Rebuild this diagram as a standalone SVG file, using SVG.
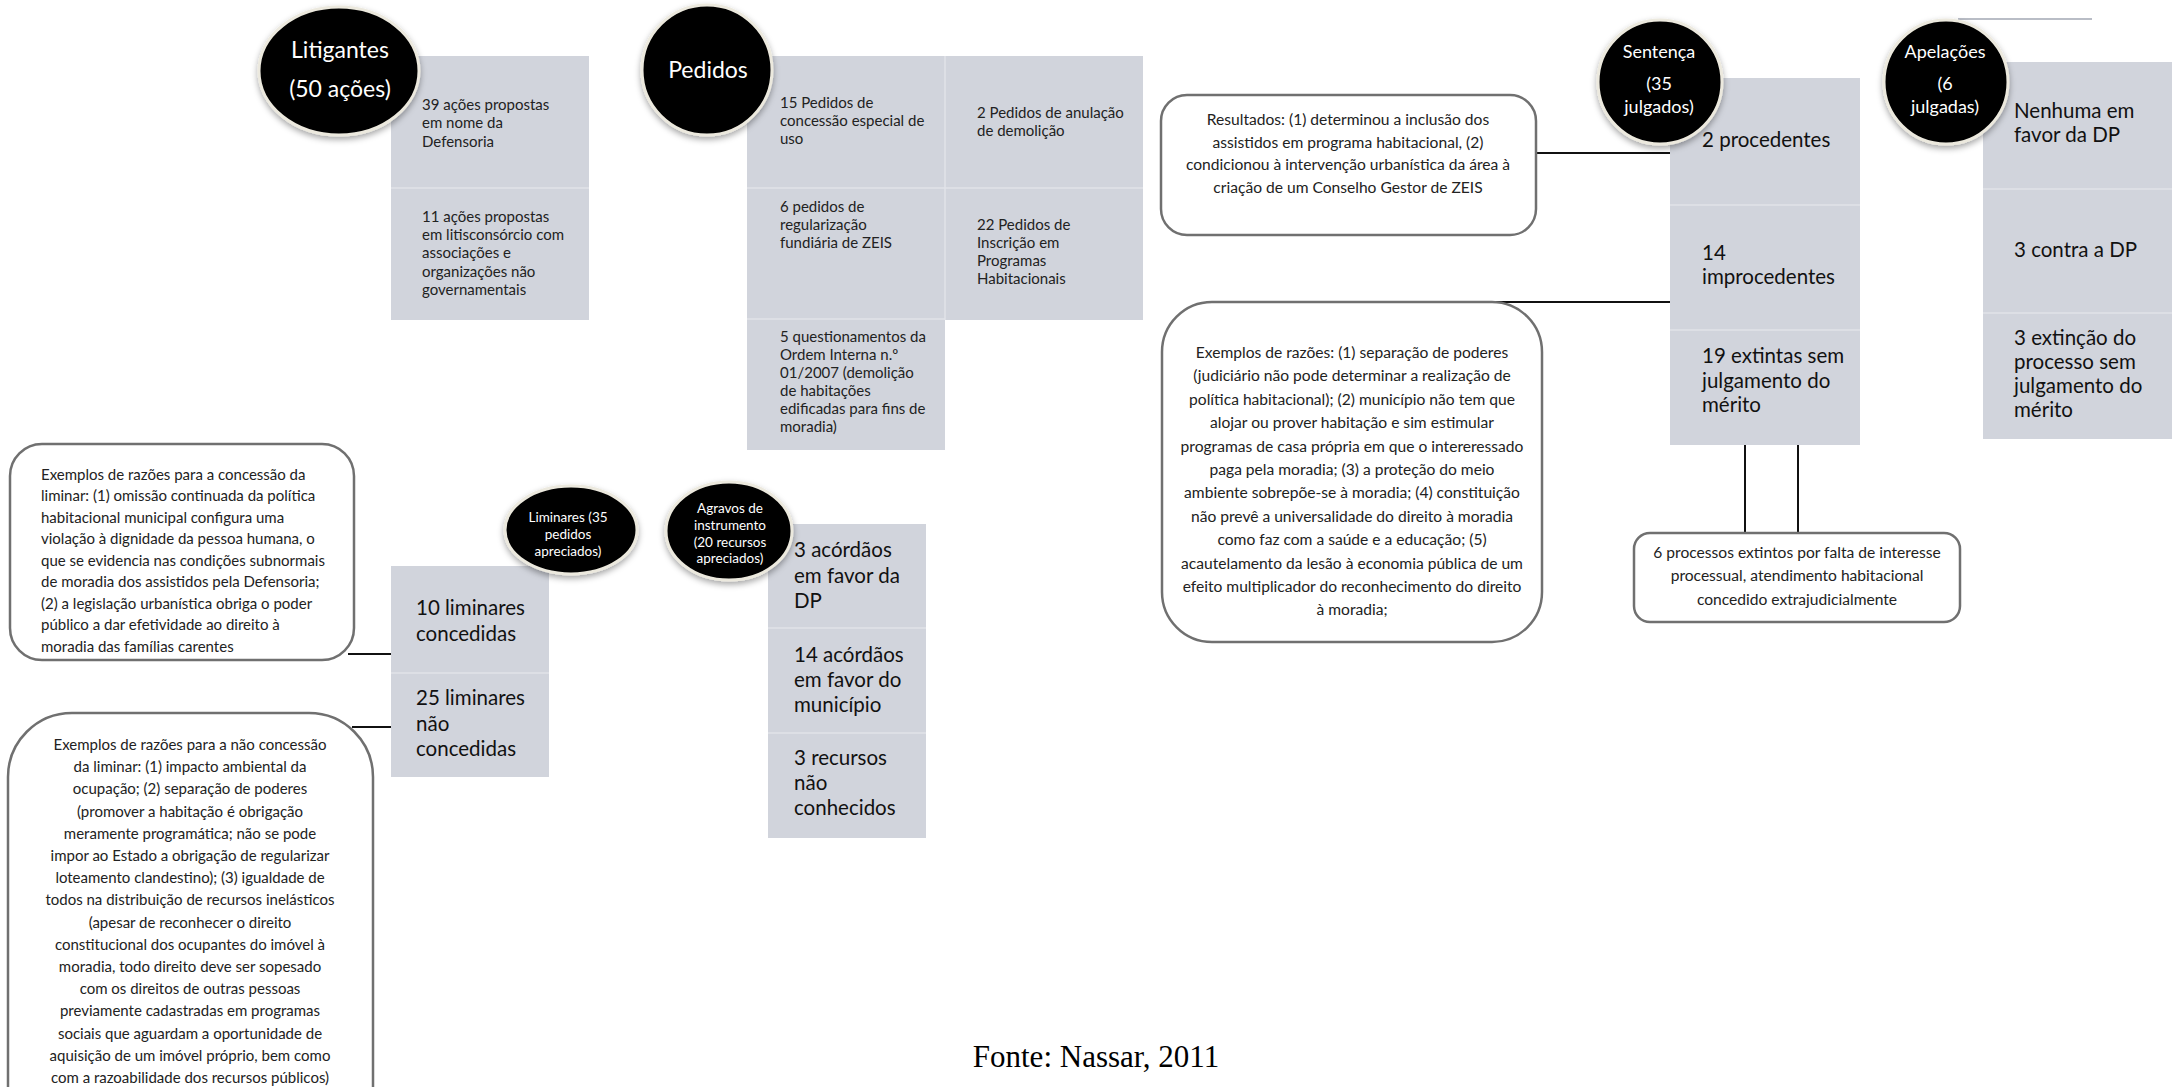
<svg xmlns="http://www.w3.org/2000/svg" width="2172" height="1087" viewBox="0 0 2172 1087">
<defs>
<filter id="sh" x="-20%" y="-20%" width="140%" height="150%">
<feDropShadow dx="0" dy="3" stdDeviation="3" flood-color="#000" flood-opacity="0.35"/>
</filter>
<style>
.bx{fill:#d1d4dc}
.dv{stroke:#e1e3e8;stroke-width:1.5}
.cir{fill:#000;stroke:#ece9de;stroke-width:3;filter:url(#sh)}
.ct{fill:#fff;font-family:Lato,"Liberation Sans",sans-serif;text-anchor:middle}
.t{fill:#222;font-family:Lato,"Liberation Sans",sans-serif;font-size:15px}
.r{font-size:15.6px}
.tb{fill:#111;font-family:Lato,"Liberation Sans",sans-serif;font-size:20.5px}
.rb{fill:#fff;stroke:#707070;stroke-width:2.5}
.tc{text-anchor:middle}
.ln{stroke:#111;stroke-width:2;fill:none}
.lg{stroke:#b9bdc6;stroke-width:2;fill:none}
</style>
</defs>
<rect width="2172" height="1087" fill="#fff"/>

<g id="connectors">
<line class="ln" x1="1535" y1="153" x2="1670" y2="153"/>
<line class="lg" x1="1670" y1="153" x2="1693" y2="153"/>
<line class="ln" x1="1490" y1="302" x2="1670" y2="302"/>
<line class="lg" x1="1670" y1="302" x2="1693" y2="302"/>
<line class="ln" x1="1745" y1="445" x2="1745" y2="533"/>
<line class="lg" x1="1745" y1="422" x2="1745" y2="445"/>
<line class="ln" x1="1798" y1="445" x2="1798" y2="533"/>
<line class="lg" x1="1798" y1="422" x2="1798" y2="445"/>
<line class="ln" x1="348" y1="654" x2="391" y2="654"/>
<line class="lg" x1="391" y1="654" x2="400" y2="654"/>
<line class="ln" x1="352" y1="727" x2="391" y2="727"/>
<line class="lg" x1="391" y1="727" x2="400" y2="727"/>
<line class="lg" x1="1958" y1="19" x2="2092" y2="19"/>
</g>

<g id="litigantes">
<rect class="bx" x="391" y="56" width="198" height="264"/>
<line class="dv" x1="391" y1="188" x2="589" y2="188"/>
<ellipse class="cir" cx="339" cy="71" rx="80" ry="64"/>
<text class="ct" x="340" y="58" font-size="23">Litigantes</text>
<text class="ct" x="340" y="97" font-size="23">(50 ações)</text>
<text class="t" x="422" y="110">39 ações propostas</text>
<text class="t" x="422" y="128">em nome da</text>
<text class="t" x="422" y="147">Defensoria</text>
<text class="t" x="422" y="222">11 ações propostas</text>
<text class="t" x="422" y="240">em litisconsórcio com</text>
<text class="t" x="422" y="258">associações e</text>
<text class="t" x="422" y="277">organizações não</text>
<text class="t" x="422" y="295">governamentais</text>
</g>

<g id="pedidos">
<rect class="bx" x="747" y="56" width="396" height="264"/>
<rect class="bx" x="747" y="320" width="198" height="130"/>
<line class="dv" x1="945" y1="56" x2="945" y2="320"/>
<line class="dv" x1="747" y1="188" x2="1143" y2="188"/>
<line class="dv" x1="747" y1="319" x2="945" y2="319"/>
<ellipse class="cir" cx="707" cy="70" rx="65" ry="65"/>
<text class="ct" x="708" y="78" font-size="23">Pedidos</text>
<text class="t" x="780" y="108">15 Pedidos de</text>
<text class="t" x="780" y="126">concessão especial de</text>
<text class="t" x="780" y="144">uso</text>
<text class="t" x="977" y="118">2 Pedidos de anulação</text>
<text class="t" x="977" y="136">de demolição</text>
<text class="t" x="780" y="212">6 pedidos de</text>
<text class="t" x="780" y="230">regularização</text>
<text class="t" x="780" y="248">fundiária de ZEIS</text>
<text class="t" x="977" y="230">22 Pedidos de</text>
<text class="t" x="977" y="248">Inscrição em</text>
<text class="t" x="977" y="266">Programas</text>
<text class="t" x="977" y="284">Habitacionais</text>
<text class="t" x="780" y="342">5 questionamentos da</text>
<text class="t" x="780" y="360">Ordem Interna n.º</text>
<text class="t" x="780" y="378">01/2007 (demolição</text>
<text class="t" x="780" y="396">de habitações</text>
<text class="t" x="780" y="414">edificadas para fins de</text>
<text class="t" x="780" y="432">moradia)</text>
</g>

<g id="resultados">
<rect class="rb" x="1161" y="95" width="375" height="140" rx="26"/>
<text class="t r tc" x="1348" y="125">Resultados: (1) determinou a inclusão dos</text>
<text class="t r tc" x="1348" y="148">assistidos em programa habitacional, (2)</text>
<text class="t r tc" x="1348" y="170">condicionou à intervenção urbanística da área à</text>
<text class="t r tc" x="1348" y="193">criação de um Conselho Gestor de ZEIS</text>
</g>

<g id="razoes-sentenca">
<rect class="rb" x="1162" y="302" width="380" height="340" rx="50"/>
<text class="t r tc" x="1352" y="358">Exemplos de razões: (1) separação de poderes</text>
<text class="t r tc" x="1352" y="381">(judiciário não pode determinar a realização de</text>
<text class="t r tc" x="1352" y="405">política habitacional); (2) município não tem que</text>
<text class="t r tc" x="1352" y="428">alojar ou prover habitação e sim estimular</text>
<text class="t r tc" x="1352" y="452">programas de casa própria em que o intereressado</text>
<text class="t r tc" x="1352" y="475">paga pela moradia; (3) a proteção do meio</text>
<text class="t r tc" x="1352" y="498">ambiente sobrepõe-se à moradia; (4) constituição</text>
<text class="t r tc" x="1352" y="522">não prevê a universalidade do direito à moradia</text>
<text class="t r tc" x="1352" y="545">como faz com a saúde e a educação; (5)</text>
<text class="t r tc" x="1352" y="569">acautelamento da lesão à economia pública de um</text>
<text class="t r tc" x="1352" y="592">efeito multiplicador do reconhecimento do direito</text>
<text class="t r tc" x="1352" y="615">à moradia;</text>
</g>

<g id="sentenca">
<rect class="bx" x="1670" y="78" width="190" height="367"/>
<line class="dv" x1="1670" y1="205" x2="1860" y2="205"/>
<line class="dv" x1="1670" y1="330" x2="1860" y2="330"/>
<ellipse class="cir" cx="1660" cy="82" rx="62" ry="62"/>
<text class="ct" x="1659" y="58" font-size="18">Sentença</text>
<text class="ct" x="1659" y="90" font-size="18">(35</text>
<text class="ct" x="1659" y="113" font-size="18">julgados)</text>
<text class="tb" x="1702" y="147">2 procedentes</text>
<text class="tb" x="1702" y="260">14</text>
<text class="tb" x="1702" y="284">improcedentes</text>
<text class="tb" x="1702" y="363">19 extintas sem</text>
<text class="tb" x="1702" y="388">julgamento do</text>
<text class="tb" x="1702" y="412">mérito</text>
</g>

<g id="apelacoes">
<rect class="bx" x="1983" y="62" width="189" height="377"/>
<line class="dv" x1="1983" y1="189" x2="2172" y2="189"/>
<line class="dv" x1="1983" y1="313" x2="2172" y2="313"/>
<ellipse class="cir" cx="1946" cy="82" rx="62" ry="62"/>
<text class="ct" x="1945" y="58" font-size="18">Apelações</text>
<text class="ct" x="1945" y="90" font-size="18">(6</text>
<text class="ct" x="1945" y="113" font-size="18">julgadas)</text>
<text class="tb" x="2014" y="118">Nenhuma em</text>
<text class="tb" x="2014" y="142">favor da DP</text>
<text class="tb" x="2014" y="257">3 contra a DP</text>
<text class="tb" x="2014" y="345">3 extinção do</text>
<text class="tb" x="2014" y="369">processo sem</text>
<text class="tb" x="2014" y="393">julgamento do</text>
<text class="tb" x="2014" y="417">mérito</text>
</g>

<g id="extintos">
<rect class="rb" x="1634" y="533" width="326" height="89" rx="16"/>
<text class="t r tc" x="1797" y="558">6 processos extintos por falta de interesse</text>
<text class="t r tc" x="1797" y="581">processual, atendimento habitacional</text>
<text class="t r tc" x="1797" y="605">concedido extrajudicialmente</text>
</g>

<g id="razoes-concessao">
<rect class="rb" x="10" y="444" width="344" height="216" rx="32"/>
<text class="t" x="41" y="480">Exemplos de razões para a concessão da</text>
<text class="t" x="41" y="501">liminar: (1) omissão continuada da política</text>
<text class="t" x="41" y="523">habitacional municipal configura uma</text>
<text class="t" x="41" y="544">violação à dignidade da pessoa humana, o</text>
<text class="t" x="41" y="566">que se evidencia nas condições subnormais</text>
<text class="t" x="41" y="587">de moradia dos assistidos pela Defensoria;</text>
<text class="t" x="41" y="609">(2) a legislação urbanística obriga o poder</text>
<text class="t" x="41" y="630">público a dar efetividade ao direito à</text>
<text class="t" x="41" y="652">moradia das famílias carentes</text>
</g>

<g id="liminares">
<rect class="bx" x="391" y="566" width="158" height="211"/>
<line class="dv" x1="391" y1="673" x2="549" y2="673"/>
<ellipse class="cir" cx="571" cy="530" rx="66" ry="44"/>
<text class="ct" x="568" y="522" font-size="13.5">Liminares (35</text>
<text class="ct" x="568" y="539" font-size="13.5">pedidos</text>
<text class="ct" x="568" y="556" font-size="13.5">apreciados)</text>
<text class="tb" x="416" y="615">10 liminares</text>
<text class="tb" x="416" y="641">concedidas</text>
<text class="tb" x="416" y="705">25 liminares</text>
<text class="tb" x="416" y="731">não</text>
<text class="tb" x="416" y="756">concedidas</text>
</g>

<g id="razoes-nao-concessao">
<rect class="rb" x="8" y="713" width="365" height="440" rx="64"/>
<text class="t tc" x="190" y="750">Exemplos de razões para a não concessão</text>
<text class="t tc" x="190" y="772">da liminar: (1) impacto ambiental da</text>
<text class="t tc" x="190" y="794">ocupação; (2) separação de poderes</text>
<text class="t tc" x="190" y="817">(promover a habitação é obrigação</text>
<text class="t tc" x="190" y="839">meramente programática; não se pode</text>
<text class="t tc" x="190" y="861">impor ao Estado a obrigação de regularizar</text>
<text class="t tc" x="190" y="883">loteamento clandestino); (3) igualdade de</text>
<text class="t tc" x="190" y="905">todos na distribuição de recursos inelásticos</text>
<text class="t tc" x="190" y="928">(apesar de reconhecer o direito</text>
<text class="t tc" x="190" y="950">constitucional dos ocupantes do imóvel à</text>
<text class="t tc" x="190" y="972">moradia, todo direito deve ser sopesado</text>
<text class="t tc" x="190" y="994">com os direitos de outras pessoas</text>
<text class="t tc" x="190" y="1016">previamente cadastradas em programas</text>
<text class="t tc" x="190" y="1039">sociais que aguardam a oportunidade de</text>
<text class="t tc" x="190" y="1061">aquisição de um imóvel próprio, bem como</text>
<text class="t tc" x="190" y="1083">com a razoabilidade dos recursos públicos)</text>
</g>

<g id="agravos">
<rect class="bx" x="768" y="524" width="158" height="314"/>
<line class="dv" x1="768" y1="628" x2="926" y2="628"/>
<line class="dv" x1="768" y1="733" x2="926" y2="733"/>
<ellipse class="cir" cx="729" cy="531" rx="63" ry="49"/>
<text class="ct" x="730" y="513" font-size="13.5">Agravos de</text>
<text class="ct" x="730" y="530" font-size="13.5">instrumento</text>
<text class="ct" x="730" y="547" font-size="13.5">(20 recursos</text>
<text class="ct" x="730" y="563" font-size="13.5">apreciados)</text>
<text class="tb" x="794" y="557">3 acórdãos</text>
<text class="tb" x="794" y="583">em favor da</text>
<text class="tb" x="794" y="608">DP</text>
<text class="tb" x="794" y="662">14 acórdãos</text>
<text class="tb" x="794" y="687">em favor do</text>
<text class="tb" x="794" y="712">município</text>
<text class="tb" x="794" y="765">3 recursos</text>
<text class="tb" x="794" y="790">não</text>
<text class="tb" x="794" y="815">conhecidos</text>
</g>

<text x="1096" y="1067" font-family="'Liberation Serif',serif" font-size="31" text-anchor="middle" fill="#000">Fonte: Nassar, 2011</text>
</svg>
